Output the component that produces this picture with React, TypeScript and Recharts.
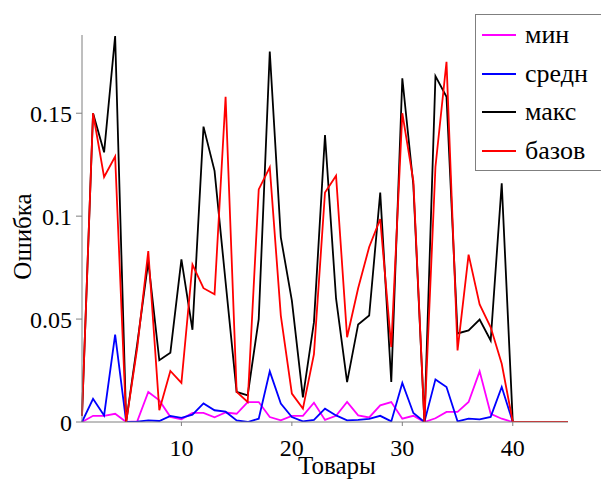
import React from 'react';
import { LineChart, Line, XAxis, YAxis, Label } from 'recharts';

// Item indices (1..45); items 41..45 carry no error
const items: number[] = Array.from({ length: 45 }, (_, i) => i + 1);

const minErr: number[] = [
  0, 0.003, 0.003, 0.004, 0, 0.0003, 0.0146, 0.0105, 0.0025, 0.0013,
  0.0044, 0.0044, 0.0023, 0.0046, 0.004, 0.0097, 0.0097, 0.0024, 0.0008, 0.003,
  0.003, 0.0094, 0.001, 0.003, 0.0097, 0.0032, 0.0022, 0.0081, 0.0097, 0.0016,
  0.003, 0, 0.0018, 0.0049, 0.0049, 0.0097, 0.0246, 0.004, 0.0016, 0,
  0, 0, 0, 0, 0,
];

const meanErr: number[] = [
  0, 0.0113, 0.0032, 0.0425, 0, 0.0002, 0.0008, 0.0005, 0.003, 0.002,
  0.0036, 0.009, 0.0057, 0.005, 0.0008, 0, 0.0016, 0.0246, 0.009, 0.0024,
  0.0003, 0.001, 0.0065, 0.0032, 0.0008, 0.001, 0.0015, 0.003, 0.0003, 0.019,
  0.0044, 0, 0.0207, 0.017, 0.0003, 0.0016, 0.0013, 0.0025, 0.017, 0,
  0, 0, 0, 0, 0,
];

const maxErr: number[] = [
  0.003, 0.15, 0.131, 0.1875, 0, 0.038, 0.078, 0.03, 0.0337, 0.079,
  0.0448, 0.1435, 0.122, 0.068, 0.0146, 0.013, 0.05, 0.18, 0.0897, 0.059,
  0.012, 0.0485, 0.1394, 0.06, 0.0194, 0.0474, 0.0517, 0.1115, 0.0194, 0.167,
  0.115, 0, 0.168, 0.158, 0.043, 0.0445, 0.0498, 0.0396, 0.116, 0,
  0, 0, 0, 0, 0,
];

const baseErr: number[] = [
  0.003, 0.15, 0.119, 0.129, 0, 0.036, 0.083, 0.0057, 0.0248, 0.019,
  0.0765, 0.065, 0.062, 0.158, 0.0146, 0.0097, 0.113, 0.1237, 0.0517, 0.0138,
  0.0065, 0.033, 0.1115, 0.1196, 0.0412, 0.065, 0.085, 0.0986, 0.0364, 0.15,
  0.117, 0, 0.124, 0.175, 0.0348, 0.0813, 0.0571, 0.046, 0.0283, 0,
  0, 0, 0, 0, 0,
];

const xTicks: number[] = [10, 20, 30, 40];
const yTicks: number[] = [0, 0.05, 0.1, 0.15];

const series = [
  { key: 'min', name: 'мин', color: '#ff00ff', values: minErr },
  { key: 'mean', name: 'средн', color: '#0000ff', values: meanErr },
  { key: 'max', name: 'макс', color: '#000000', values: maxErr },
  { key: 'base', name: 'базов', color: '#ff0000', values: baseErr },
];

const data = items.map((x, i) => {
  const row: Record<string, number> = { x };
  series.forEach((s) => {
    row[s.key] = s.values[i];
  });
  return row;
});

const FONT = '"Liberation Serif", "Times New Roman", serif';
const AXIS_GRAY = '#7f7f7f';

const XTick = (p: any) => (
  <text
    x={p.x}
    y={p.y}
    dy="0.71em"
    textAnchor="middle"
    style={{ fontFamily: FONT, fontSize: 24 }}
    fill="#000"
  >
    {String(p.payload.value)}
  </text>
);

const YTick = (p: any) => (
  <text
    x={p.x}
    y={p.y}
    dy="0.355em"
    textAnchor="end"
    style={{ fontFamily: FONT, fontSize: 24 }}
    fill="#000"
  >
    {String(p.payload.value)}
  </text>
);

export default function App() {
  return (
    <div style={{ position: 'absolute', left: 0, top: 0, width: 602, height: 484, background: '#fff', overflow: 'hidden' }}>
      <LineChart
        width={602}
        height={484}
        data={data}
        margin={{ top: 35, right: 34, bottom: 0, left: 0 }}
      >
        <XAxis
          dataKey="x"
          type="number"
          domain={[1, 45]}
          ticks={xTicks}
          height={62}
          stroke={AXIS_GRAY}
          tickSize={4}
          tickMargin={13}
          tick={<XTick />}
          tickLine={{ stroke: AXIS_GRAY }}
        >
          <Label
            content={(p: any) => {
              const vb = p.viewBox || {};
              return (
                <text
                  x={vb.x + vb.width / 2 + 12}
                  y={vb.y + vb.height - 10}
                  textAnchor="middle"
                  style={{ fontFamily: FONT, fontSize: 25 }}
                  fill="#000"
                >
                  Товары
                </text>
              );
            }}
          />
        </XAxis>
        <YAxis
          type="number"
          domain={[0, 0.188]}
          ticks={yTicks}
          width={82}
          stroke={AXIS_GRAY}
          tickSize={6}
          tickMargin={4}
          tick={<YTick />}
          tickLine={{ stroke: AXIS_GRAY }}
          allowDataOverflow
        >
          <Label
            content={(p: any) => {
              const vb = p.viewBox || {};
              const cx = vb.x + 22;
              const cy = vb.y + vb.height / 2 + 8;
              return (
                <text
                  x={cx}
                  y={cy}
                  transform={`rotate(-90 ${cx} ${cy})`}
                  textAnchor="middle"
                  dominantBaseline="central"
                  style={{ fontFamily: FONT, fontSize: 25 }}
                  fill="#000"
                >
                  Ошибка
                </text>
              );
            }}
          />
        </YAxis>
        {series.map((s) => (
          <Line
            key={s.key}
            type="linear"
            dataKey={s.key}
            name={s.name}
            stroke={s.color}
            strokeWidth={1.8}
            dot={false}
            activeDot={false}
            isAnimationActive={false}
          />
        ))}
      </LineChart>
      <div
        style={{
          position: 'absolute',
          left: 475,
          top: 14,
          width: 126,
          height: 157,
          border: `1px solid ${AXIS_GRAY}`,
          borderRight: 'none',
          background: '#fff',
          boxSizing: 'border-box',
          overflow: 'hidden',
        }}
      >
        {series.map((s, i) => (
          <div
            key={s.key}
            style={{
              position: 'absolute',
              left: 6,
              top: i * 38.7,
              height: 40,
              display: 'flex',
              alignItems: 'center',
            }}
          >
            <svg width={36} height={4} style={{ display: 'block' }}>
              <line x1={0} y1={2} x2={34} y2={2} stroke={s.color} strokeWidth={1.8} />
            </svg>
            <span
              style={{
                marginLeft: 7,
                fontFamily: FONT,
                fontSize: 26,
                lineHeight: '26px',
                color: '#000',
                whiteSpace: 'nowrap',
              }}
            >
              {s.name}
            </span>
          </div>
        ))}
      </div>
    </div>
  );
}
